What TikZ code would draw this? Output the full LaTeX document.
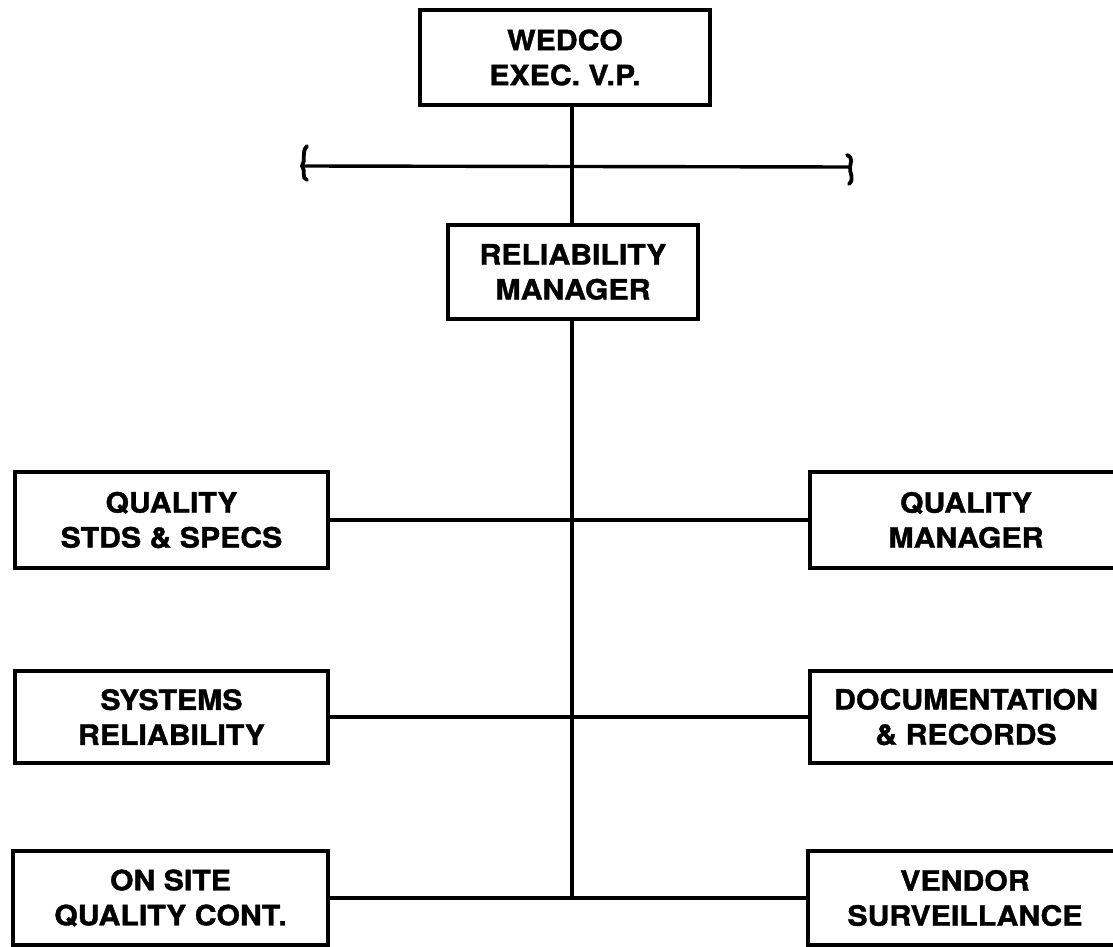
\documentclass[tikz,border=0pt]{standalone}
\usepackage{fontspec}
\setmainfont{TeX Gyre Heros}[FakeStretch=1.08, BoldFeatures={FakeBold=1.3}]
\tikzset{
  orgbox/.style={draw, line width=4pt, align=center, inner sep=0pt,
    font=\fontsize{28}{35}\selectfont\bfseries},
  link/.style={line width=3.4pt},
  bracecurve/.style={line width=3.8pt, line cap=round}
}
\begin{document}
\begin{tikzpicture}[x=1pt,y=-1pt]
\clip (0,0) rectangle (1113,947);
\fill[white] (0,0) rectangle (1113,947);
% top
\node[orgbox, minimum width=290pt, minimum height=95pt] (wedco) at (565,57.5) {WEDCO\\EXEC. V.P.};
\node[orgbox, minimum width=250pt, minimum height=94pt] (rm) at (573,272) {RELIABILITY\\MANAGER};
% left column
\node[orgbox, minimum width=313pt, minimum height=96pt] (qss) at (171.5,520) {QUALITY\\STDS \& SPECS};
\node[orgbox, minimum width=313pt, minimum height=92pt] (sr) at (171.5,717) {SYSTEMS\\RELIABILITY};
\node[orgbox, minimum width=315pt, minimum height=94pt] (osqc) at (170.5,898) {ON SITE\\QUALITY CONT.};
% right column
\node[orgbox, minimum width=312pt, minimum height=96pt] (qm) at (966,520) {QUALITY\\MANAGER};
\node[orgbox, minimum width=312pt, minimum height=92pt] (dr) at (966,717) {DOCUMENTATION\\\& RECORDS};
\node[orgbox, minimum width=314pt, minimum height=94pt] (vs) at (965,898) {VENDOR\\SURVEILLANCE};
% bracket line
\coordinate (bl) at (302,166);
\coordinate (br) at (850,167);
\draw[link] (bl) -- (br);
\draw[bracecurve] ([shift={(5,-20)}]bl) .. controls ([shift={(-1,-14)}]bl) and ([shift={(4,-5)}]bl) .. (bl)
  .. controls ([shift={(4,5)}]bl) and ([shift={(-1,12)}]bl) .. ([shift={(5,14)}]bl);
\draw[bracecurve] ([shift={(-3,-12)}]br) .. controls ([shift={(4,-9)}]br) and ([shift={(0,-3)}]br) .. (br)
  .. controls ([shift={(-1,5)}]br) and ([shift={(5,12)}]br) .. ([shift={(-1,17)}]br);
% connectors
\coordinate (bj) at (572,898);
\draw[link] (wedco.south -| 572,0) -- (rm.north -| 572,0);
\draw[link] (rm.south -| 572,0) -- (bj);
\draw[link] (qss.east) -- (qm.west);
\draw[link] (sr.east) -- (dr.west);
\draw[link] (osqc.east) -- (vs.west);
\end{tikzpicture}
\end{document}
